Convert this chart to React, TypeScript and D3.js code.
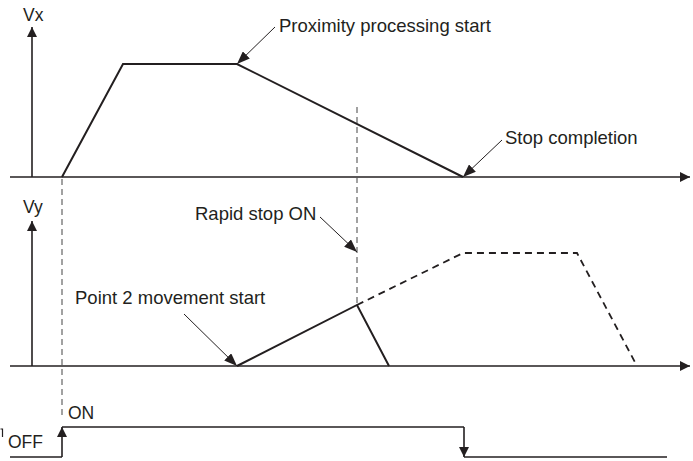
import * as d3 from "d3";

// time axis (arbitrary units, t=0 at the vertical axes)
const tRange = [-22, 658];

// Vx profile: accel, constant, proximity decel to stop
const vxPoints = [
  { t: 30, v: 0 },
  { t: 91, v: 100 },
  { t: 205, v: 100 },
  { t: 431, v: 0 },
];

// Vy profile actually run (cut short by rapid stop)
const vySolid = [
  { t: 205, v: 0 },
  { t: 325, v: 54 },
  { t: 357, v: 0 },
];

// Vy profile that would have run without rapid stop
const vyDashed = [
  { t: 325, v: 54 },
  { t: 431, v: 100 },
  { t: 545, v: 100 },
  { t: 605, v: 0 },
];

// rapid stop signal: 0 = OFF, 1 = ON
const signalPoints = [
  { t: -22, s: 0 },
  { t: 30, s: 0 },
  { t: 30, s: 1 },
  { t: 432, s: 1 },
  { t: 432, s: 0 },
  { t: 635, s: 0 },
];

const INK = "#231f20";
const FONT = "'Liberation Sans', Arial, sans-serif";

const App = () => {
  const width = 693;
  const height = 461;

  const x = d3.scaleLinear().domain(tRange).range([10, 690]);
  const yx = d3.scaleLinear().domain([0, 100]).range([177, 64]);
  const yy = d3.scaleLinear().domain([0, 100]).range([366, 253]);
  const ys = d3.scaleLinear().domain([0, 1]).range([457, 427]);

  const vxLine = d3
    .line<{ t: number; v: number }>()
    .x((d) => x(d.t))
    .y((d) => yx(d.v));
  const vyLine = d3
    .line<{ t: number; v: number }>()
    .x((d) => x(d.t))
    .y((d) => yy(d.v));

  const axisX = x(0);
  const sigStart = signalPoints[1];
  const sigStop = signalPoints[3];

  // annotation arrows: tip on a data point, tail offset
  const notes = [
    { tip: [x(vxPoints[2].t), yx(vxPoints[2].v)], dx: 38, dy: -37 },
    { tip: [x(vxPoints[3].t), yx(vxPoints[3].v)], dx: 39, dy: -37 },
    { tip: [x(vySolid[1].t), yy(vySolid[1].v) - 53], dx: -37, dy: -35 },
    { tip: [x(vySolid[0].t), yy(vySolid[0].v)], dx: -53, dy: -52 },
  ];

  return (
    <svg
      width={width}
      height={height}
      style={{ position: "absolute", left: 0, top: 0, background: "#fff" }}
      fontFamily={FONT}
    >
      <defs>
        <marker
          id="axHead"
          markerUnits="userSpaceOnUse"
          viewBox="0 0 10 10"
          refX="10"
          refY="5"
          markerWidth="10"
          markerHeight="10"
          orient="auto"
        >
          <path d="M0,0L10,5L0,10Z" fill={INK} />
        </marker>
        <marker
          id="noteHead"
          markerUnits="userSpaceOnUse"
          viewBox="0 0 13 10"
          refX="13"
          refY="5"
          markerWidth="13"
          markerHeight="10"
          orient="auto"
        >
          <path d="M0,0L13,5L0,10Z" fill={INK} />
        </marker>
      </defs>

      {/* axes */}
      <g stroke={INK} strokeWidth={1.6} fill="none">
        <line x1={axisX} y1={yx(0)} x2={axisX} y2={27} markerEnd="url(#axHead)" />
        <line x1={x(tRange[0])} y1={yx(0)} x2={x(tRange[1])} y2={yx(0)} markerEnd="url(#axHead)" />
        <line x1={axisX} y1={yy(0)} x2={axisX} y2={221} markerEnd="url(#axHead)" />
        <line x1={x(tRange[0])} y1={yy(0)} x2={x(tRange[1])} y2={yy(0)} markerEnd="url(#axHead)" />
      </g>

      {/* dashed guide lines */}
      <g stroke="#555" strokeWidth={1.1} strokeDasharray="6,4">
        <line x1={x(sigStart.t)} y1={yx(0) + 2} x2={x(sigStart.t)} y2={ys(1) - 8} />
        <line x1={x(vySolid[1].t)} y1={107} x2={x(vySolid[1].t)} y2={yy(vySolid[1].v)} />
      </g>

      {/* speed profiles */}
      <path d={vxLine(vxPoints) ?? ""} stroke={INK} strokeWidth={2} fill="none" />
      <path d={vyLine(vySolid) ?? ""} stroke={INK} strokeWidth={2} fill="none" />
      <path
        d={vyLine(vyDashed) ?? ""}
        stroke={INK}
        strokeWidth={1.8}
        strokeDasharray="7,5"
        fill="none"
      />

      {/* rapid stop signal */}
      <g stroke={INK} strokeWidth={1.6} fill="none">
        <line x1={x(signalPoints[0].t)} y1={ys(0)} x2={x(sigStart.t)} y2={ys(0)} />
        <line x1={x(sigStart.t)} y1={ys(0)} x2={x(sigStart.t)} y2={ys(1)} markerEnd="url(#axHead)" />
        <line x1={x(sigStart.t)} y1={ys(1)} x2={x(sigStop.t)} y2={ys(1)} />
        <line x1={x(sigStop.t)} y1={ys(1)} x2={x(sigStop.t)} y2={ys(0)} markerEnd="url(#axHead)" />
        <line x1={x(sigStop.t)} y1={ys(0)} x2={x(signalPoints[5].t)} y2={ys(0)} />
        <path d="M0.5,429H2.5V437" strokeWidth={1.2} />
      </g>

      {/* annotation arrows */}
      <g stroke={INK} strokeWidth={1}>
        {notes.map((n, i) => (
          <line
            key={i}
            x1={n.tip[0] + n.dx}
            y1={n.tip[1] + n.dy}
            x2={n.tip[0]}
            y2={n.tip[1]}
            markerEnd="url(#noteHead)"
          />
        ))}
      </g>

      {/* labels */}
      <g fill={INK} fontSize={18.5}>
        <text x={23} y={21} fontSize={17.5}>Vx</text>
        <text x={23} y={213} fontSize={17.5}>Vy</text>
        <text x={279} y={32}>Proximity processing start</text>
        <text x={505} y={144}>Stop completion</text>
        <text x={195} y={220}>Rapid stop ON</text>
        <text x={75} y={304}>Point 2 movement start</text>
        <text x={68} y={419} fontSize={17.5}>ON</text>
        <text x={8} y={448} fontSize={17.5}>OFF</text>
      </g>
    </svg>
  );
};

export default App;
